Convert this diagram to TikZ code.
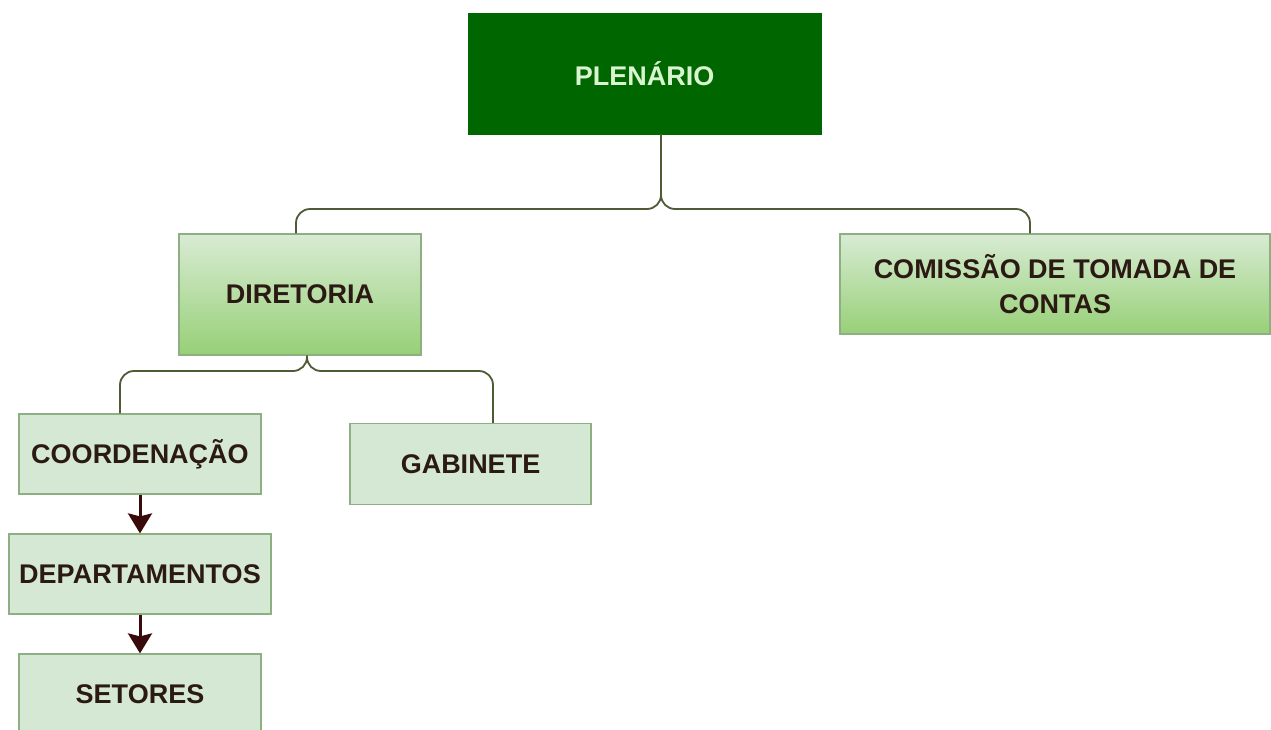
\documentclass[tikz,border=0pt]{standalone}
\usepackage{fontspec}
\setmainfont{Liberation Sans}
\usetikzlibrary{arrows.meta}
\definecolor{darkgreen}{HTML}{006600}
\definecolor{lighttext}{HTML}{D8F5D0}
\definecolor{boxtext}{HTML}{2B1A14}
\definecolor{flatfill}{HTML}{D5E8D4}
\definecolor{gradtop}{HTML}{D8EBD3}
\definecolor{gradbot}{HTML}{97D077}
\definecolor{boxborder}{HTML}{8DAF82}
\definecolor{connline}{HTML}{4E5B34}
\definecolor{arrowcol}{HTML}{3A0A0A}
\begin{document}
\begin{tikzpicture}[x=1pt,y=-1pt,
  every node/.style={font=\bfseries\fontsize{27}{35}\selectfont, inner sep=0pt, align=center},
  topbox/.style={fill=darkgreen, draw=darkgreen, text=lighttext},
  gradbox/.style={draw=boxborder, line width=1.2pt, top color=gradtop, bottom color=gradbot, text=boxtext},
  flatbox/.style={draw=boxborder, line width=1.2pt, fill=flatfill, text=boxtext},
  conn/.style={draw=connline, line width=1.8pt, rounded corners=14pt},
  arr/.style={draw=arrowcol, line width=3pt, -{Stealth[width=24pt,length=20pt,inset=3pt]}}]
\clip (0,0) rectangle (1271,729);
\fill[white] (0,0) rectangle (1271,729);

\node[topbox, minimum width=353pt, minimum height=121pt] (plen) at (644.5,73.5) {PLEN\'ARIO};
\node[gradbox, minimum width=242pt, minimum height=121pt] (dir) at (300,294.5) {DIRETORIA};
\node[gradbox, minimum width=430pt, minimum height=100pt] (com) at (1055,284) {COMISSÃO DE TOMADA DE\\CONTAS};
\node[flatbox, minimum width=242pt, minimum height=80pt] (coord) at (140,454) {COORDENAÇÃO};
\node[flatbox, minimum width=241pt, minimum height=81pt] (gab) at (470.5,464) {GABINETE};
\node[flatbox, minimum width=262pt, minimum height=80pt] (dep) at (140,574) {DEPARTAMENTOS};
\node[flatbox, minimum width=242pt, minimum height=80pt] (set) at (140,694) {SETORES};

\coordinate (plenS) at ([xshift=16.5pt]plen.south);
\coordinate (dirN) at ([xshift=-4pt]dir.north);
\coordinate (comN) at ([xshift=-25pt]com.north);
\coordinate (dirS) at ([xshift=7pt]dir.south);
\coordinate (coordN) at ([xshift=-20pt]coord.north);
\coordinate (gabN) at ([xshift=22.5pt]gab.north);

\draw[conn] (plenS) -- (plenS |- 0,209) -- (dirN |- 0,209) -- (dirN);
\draw[conn] (plenS) -- (plenS |- 0,209) -- (comN |- 0,209) -- (comN);
\draw[conn] (dirS) -- (dirS |- 0,371) -- (coordN |- 0,371) -- (coordN);
\draw[conn] (dirS) -- (dirS |- 0,371) -- (gabN |- 0,371) -- (gabN);

\draw[arr] (coord.south) -- (dep.north);
\draw[arr] (dep.south) -- (set.north);
\end{tikzpicture}
\end{document}
